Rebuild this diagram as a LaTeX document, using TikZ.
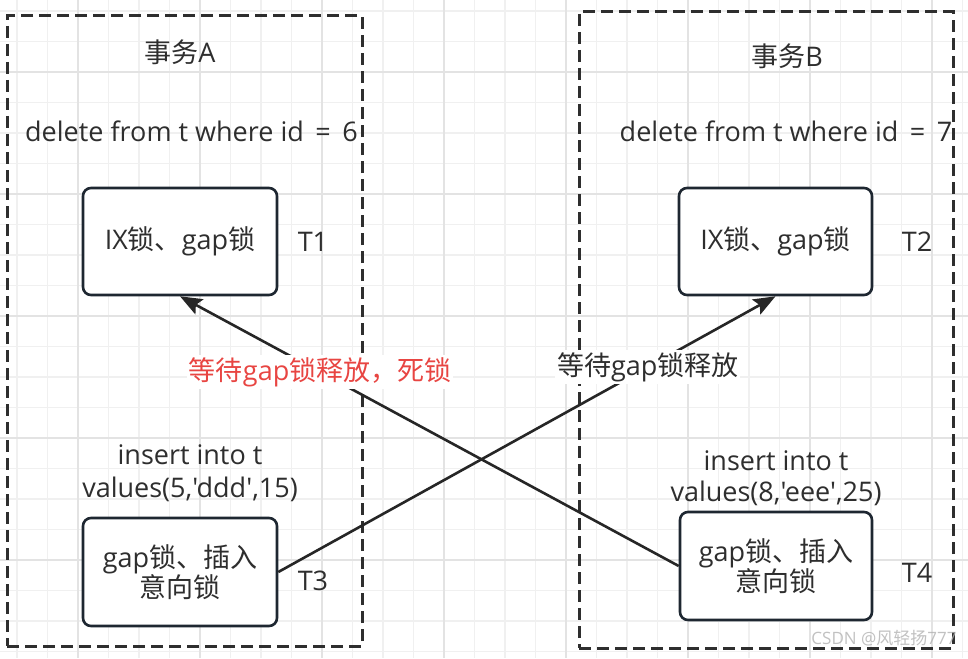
\documentclass[tikz,border=0pt]{standalone}
\usepackage{fontspec}
\setmainfont{Open Sans}
\newfontfamily\latin{Open Sans}
\newfontfamily\cjk{Noto Sans CJK SC}
\newcommand{\zh}[1]{{\cjk #1}}
\newcommand{\sq}{{\latin\char"0027\relax}}
\usetikzlibrary{arrows.meta}
\definecolor{gridminor}{HTML}{F0F0F0}
\definecolor{gridmajor}{HTML}{E3E3E3}
\definecolor{ink}{HTML}{2E2E2E}
\definecolor{boxline}{HTML}{1E2731}
\definecolor{redtext}{HTML}{E84542}
\begin{document}
\begin{tikzpicture}[x=1pt,y=-1pt,
  every node/.style={font=\latin\fontsize{27}{32}\selectfont, text=ink},
  lockbox/.style={draw=boxline, line width=2.6pt, rounded corners=8pt, fill=white, align=center, inner sep=0pt},
  group/.style={draw=ink, line width=3pt, dash pattern=on 12pt off 6pt, inner sep=0pt},
  plain/.style={inner sep=0pt, align=center},
  conn/.style={draw=black!85, line width=2.6pt, -{Stealth[length=22pt,width=17pt,inset=4pt]}},
  lab/.style={fill=white, inner sep=2pt}
]
\useasboundingbox (0,0) rectangle (968,658);
\fill[white] (0,0) rectangle (968,658);
% grid
\foreach \i in {-2,...,29} \draw[gridminor, line width=1.5pt] ({78+30.5*\i},0) -- ({78+30.5*\i},658);
\foreach \j in {-2,...,19} \draw[gridminor, line width=1.5pt] (0,{72+30.5*\j}) -- (968,{72+30.5*\j});
\foreach \i in {0,...,7} \draw[gridmajor, line width=2pt] ({78+122*\i},0) -- ({78+122*\i},658);
\foreach \j in {0,...,4} \draw[gridmajor, line width=2pt] (0,{72+122*\j}) -- (968,{72+122*\j});

% groups
\node[group, minimum width=355pt, minimum height=630pt] (gA) at (184.5,331) {};
\node[group, minimum width=374pt, minimum height=636pt] (gB) at (766,330) {};

% titles
\node[plain] (titleA) at (180,52) {\zh{事务}A};
\node[plain] (titleB) at (787,56) {\zh{事务}B};
\node[plain] (delA) at (191.5,131) {delete from t where id\, =\, 6};
\node[plain] (delB) at (786,131) {delete from t where id\, =\, 7};

% boxes
\node[lockbox, minimum width=194pt, minimum height=107pt] (t1) at (180,241.5) {IX\zh{锁、}gap\zh{锁}};
\node[lockbox, minimum width=193pt, minimum height=107pt] (t2) at (775.5,241.5) {IX\zh{锁、}gap\zh{锁}};
\node[lockbox, minimum width=194pt, minimum height=108pt] (t3) at (180,572) {gap\zh{锁、插入}\\[-2pt]\zh{意向锁}};
\node[lockbox, minimum width=192pt, minimum height=108pt] (t4) at (776,566) {gap\zh{锁、插入}\\[-2pt]\zh{意向锁}};

\node[plain] (l1) at (313,242) {T1};
\node[plain] (l2) at (917,242) {T2};
\node[plain] (l3) at (313,581) {T3};
\node[plain] (l4) at (917,573) {T4};

\node[plain] (insA) at (190,473) {insert into t\\[1pt]values(5,\sq ddd\sq,15)};
\node[plain] (insB) at (776,478) {insert into t\\[-1pt]values(8,\sq eee\sq,25)};

% connectors
\draw[conn] (t4.west) -- (t1.south)
  node[lab, pos=0.719, text=redtext] {\zh{等待}gap\zh{锁释放，死锁}};
\draw[conn] (t3.east) -- (t2.south)
  node[lab, pos=0.743] {\zh{等待}gap\zh{锁释放}};

% watermark
\node[plain, font=\latin\fontsize{17}{20}\selectfont, text=black!30, opacity=0.8] (wm) at (884,638) {CSDN @\zh{风轻扬}777};
\end{tikzpicture}
\end{document}
